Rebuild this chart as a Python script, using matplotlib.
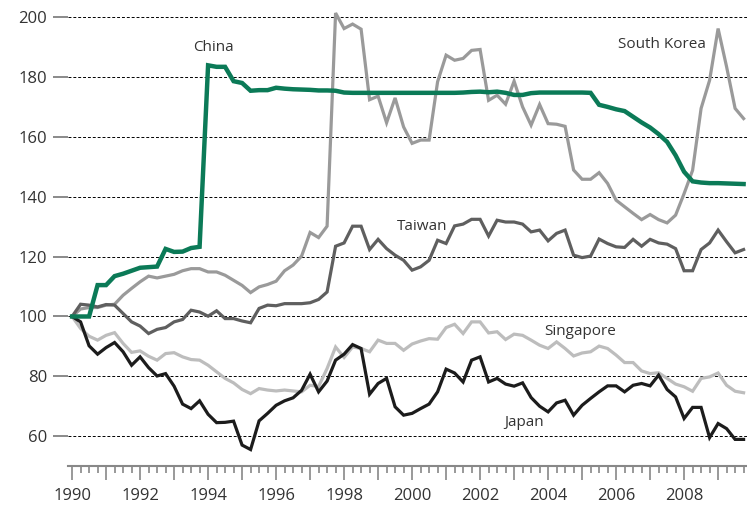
import numpy as np
import matplotlib
matplotlib.use('Agg')
import matplotlib.pyplot as plt

# quarterly index, 1990 Q1 = 100
quarters = 1990 + np.arange(80) / 4

china = [100, 100, 100, 110.5, 110.5, 113.5, 114.3, 115.3,
         116.3, 116.5, 116.7, 122.6, 121.6, 121.7, 122.9, 123.3,
         184, 183.5, 183.5, 178.7, 178.1, 175.5, 175.7, 175.7,
         176.5, 176.2, 176.0, 175.9, 175.8, 175.6, 175.6, 175.5,
         174.9, 174.8, 174.8, 174.8, 174.8, 174.8, 174.8, 174.8,
         174.8, 174.8, 174.8, 174.8, 174.8, 174.8, 174.9, 175.1,
         175.2, 175.0, 175.2, 174.8, 174.1, 174.1, 174.7, 174.9,
         174.9, 174.9, 174.9, 174.9, 174.9, 174.8, 170.8, 170.1,
         169.3, 168.7, 166.8, 164.9, 163.2, 161.0, 158.4, 153.9,
         148.4, 145.2, 144.8, 144.6, 144.6, 144.5, 144.4, 144.3]

south_korea = [100, 102.5, 103, 103, 103.8, 104.1, 107.1, 109.4,
               111.6, 113.5, 112.9, 113.5, 114.1, 115.3, 116.0, 116.0,
               114.9, 114.9, 113.8, 112.1, 110.4, 108.0, 109.9, 110.7,
               111.8, 115.3, 117.2, 120.2, 128.1, 126.4, 130.2, 201.5,
               196.3, 197.8, 196.1, 172.5, 173.7, 164.8, 173.1, 163.4,
               157.9, 159.0, 159.0, 178.5, 187.4, 185.7, 186.3, 189.0,
               189.3, 172.3, 174.0, 171.0, 178.7, 170.1, 164.0, 170.9,
               164.5, 164.3, 163.6, 149.0, 145.9, 145.9, 148.1, 144.5,
               138.9, 136.7, 134.5, 132.4, 134.1, 132.4, 131.3, 133.9,
               141.1, 148.9, 169.6, 179.0, 196.3, 183.5, 169.6, 166.2]

taiwan = [100, 104.1, 103.8, 103.2, 104.0, 103.8, 101.0, 98.2,
          96.8, 94.3, 95.7, 96.3, 98.2, 99.0, 102.1, 101.5,
          100.1, 101.9, 99.3, 99.3, 98.5, 97.9, 102.7, 103.8,
          103.6, 104.3, 104.3, 104.3, 104.6, 105.7, 108.2, 123.5,
          124.6, 130.2, 130.2, 122.4, 125.8, 122.7, 120.5, 118.8,
          115.5, 116.6, 118.8, 125.5, 124.4, 130.3, 130.9, 132.5,
          132.5, 126.9, 132.2, 131.6, 131.6, 130.9, 128.3, 128.9,
          125.3, 127.8, 128.9, 120.5, 119.7, 120.2, 125.9, 124.4,
          123.3, 123.1, 125.8, 123.5, 125.8, 124.6, 124.2, 122.7,
          115.3, 115.3, 122.4, 124.6, 128.9, 125.0, 121.3, 122.4]

singapore = [100, 96.0, 93.4, 92.1, 93.7, 94.6, 91.0, 88.0,
             88.5, 86.7, 85.4, 87.6, 87.9, 86.5, 85.6, 85.4,
             83.7, 81.5, 79.3, 77.8, 75.6, 74.2, 75.9, 75.4,
             75.1, 75.4, 75.1, 74.8, 77.0, 76.6, 82.6, 89.8,
             86.3, 89.8, 89.3, 88.2, 92.1, 91.0, 91.0, 88.7,
             90.8, 91.8, 92.6, 92.4, 96.3, 97.4, 94.3, 98.2,
             98.2, 94.5, 94.9, 92.3, 94.1, 93.7, 92.1, 90.4,
             89.3, 91.5, 89.3, 86.8, 87.8, 88.2, 90.1, 89.3,
             87.1, 84.6, 84.6, 81.8, 80.9, 81.2, 79.3, 77.4,
             76.5, 75.0, 79.3, 79.8, 81.1, 77.0, 75.0, 74.5]

japan = [100, 98.2, 90.2, 87.4, 89.6, 91.3, 88.2, 83.7,
         86.5, 82.9, 80.1, 80.9, 76.7, 70.7, 69.2, 71.8,
         67.3, 64.5, 64.6, 65.0, 57.0, 55.5, 65.1, 67.6,
         70.3, 71.8, 72.8, 75.3, 80.7, 74.8, 78.4, 85.4,
         87.4, 90.6, 89.3, 74.0, 77.6, 79.3, 69.8, 67.0,
         67.6, 69.2, 70.7, 74.8, 82.4, 81.1, 78.1, 85.4,
         86.5, 78.1, 79.3, 77.4, 76.7, 77.8, 72.9, 70.0,
         68.1, 71.1, 72.0, 67.0, 70.3, 72.6, 74.8, 76.8,
         76.8, 74.8, 77.0, 77.6, 76.8, 80.4, 75.6, 73.1,
         65.9, 69.6, 69.6, 59.5, 64.2, 62.5, 58.9, 58.9]

plt.rcParams['font.family'] = ['Open Sans', 'DejaVu Sans']

fig = plt.figure(figsize=(7.47, 5.12), dpi=100)
ax = fig.add_axes([68 / 747, 46 / 512, 1 - 68 / 747, 1 - 46 / 512])

ax.plot(quarters, south_korea, color='#9a9a9a', lw=2.3, solid_joinstyle='miter')
ax.plot(quarters, taiwan, color='#5f5f5f', lw=2.3, solid_joinstyle='miter')
ax.plot(quarters, singapore, color='#bdbdbd', lw=2.3, solid_joinstyle='miter')
ax.plot(quarters, japan, color='#1c1c1c', lw=2.3, solid_joinstyle='miter')
ax.plot(quarters, china, color='#0b7a57', lw=3.2, solid_joinstyle='miter')

ax.set_xlim(1989.88, 2009.85)
ax.set_ylim(50, 205.85)

# dashed gridlines
for v in range(60, 201, 20):
    ax.axhline(v, color='black', lw=0.7, ls=(0, (3, 2)), zorder=0)

ax.set_yticks(range(60, 201, 20))
ax.set_xticks(range(1990, 2010))
ax.set_xticklabels([str(y) if y % 2 == 0 else '' for y in range(1990, 2010)])
ax.set_xticks(np.arange(1990, 2010, 0.25), minor=True)

ax.tick_params(axis='y', length=11, width=1.2, color='#777777', pad=4,
               labelsize=12, labelcolor='#333333')
ax.tick_params(axis='x', which='major', length=10, width=1.2, color='#888888',
               pad=6, labelsize=12, labelcolor='#333333')
ax.tick_params(axis='x', which='minor', length=5, width=1.2, color='#888888')

for s in ['top', 'right', 'left']:
    ax.spines[s].set_visible(False)
ax.spines['bottom'].set_color('#888888')
ax.spines['bottom'].set_linewidth(1.5)

txt = dict(fontsize=11, color='#333333', ha='center', va='center')
ax.text(1994.15, 190.1, 'China', **txt)
ax.text(2007.35, 191.1, 'South Korea', **txt)
ax.text(2000.3, 130.2, 'Taiwan', **txt)
ax.text(2004.94, 95.1, 'Singapore', **txt)
ax.text(2003.3, 64.6, 'Japan', **txt)

plt.savefig('out.png', dpi=100)
